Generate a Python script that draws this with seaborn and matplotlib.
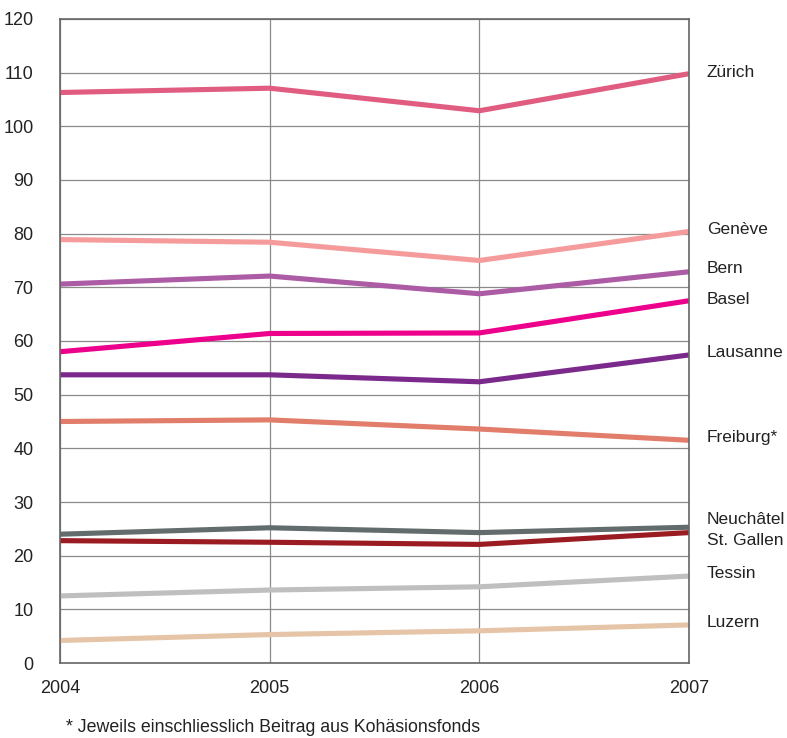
import pandas as pd
import seaborn as sns
import matplotlib.pyplot as plt

# --- data ---
years = [2004, 2005, 2006, 2007]
cities = ["Zürich", "Genève", "Bern", "Basel", "Lausanne", "Freiburg*",
          "Neuchâtel", "St. Gallen", "Tessin", "Luzern"]
zuerich = [106.3, 107.1, 102.9, 109.8]
geneve = [78.9, 78.4, 75.0, 80.4]
bern = [70.6, 72.1, 68.8, 72.9]
basel = [58.0, 61.4, 61.5, 67.5]
lausanne = [53.7, 53.7, 52.4, 57.4]
freiburg = [45.0, 45.3, 43.6, 41.5]
neuchatel = [24.0, 25.2, 24.3, 25.3]
st_gallen = [22.8, 22.5, 22.1, 24.3]
tessin = [12.5, 13.6, 14.2, 16.2]
luzern = [4.2, 5.3, 6.0, 7.1]
series = [zuerich, geneve, bern, basel, lausanne, freiburg,
          neuchatel, st_gallen, tessin, luzern]
colors = ["#E05C80", "#F59B9B", "#AC5BA5", "#EC008C", "#7B2A8C", "#E27D6C",
          "#636C6C", "#9B1B22", "#BFBFC0", "#E6C4A7"]
# small label shifts so close labels don't overlap
label_shift = [0.3, 0.3, 0.7, 0.3, 0.4, 0.6, 1.5, -1.4, 0.4, 0.4]

rows = []
for city, vals in zip(cities, series):
    for yr, v in zip(years, vals):
        rows.append({"Jahr": yr, "Wert": v, "Stadt": city})
df = pd.DataFrame(rows)

# --- plot ---
sns.set_style("white")
plt.rcParams['font.family'] = ['Liberation Sans', 'DejaVu Sans']

fig = plt.figure(figsize=(7.87, 7.38), dpi=100)
ax = fig.add_axes([0.0762, 0.1016, 0.7993, 0.8727])
sns.lineplot(data=df, x="Jahr", y="Wert", hue="Stadt", hue_order=cities,
             palette=dict(zip(cities, colors)), linewidth=3.7, legend=False,
             ax=ax, solid_capstyle="butt")

ax.set_xlim(2004, 2007)
ax.set_ylim(0, 120)
ax.set_xticks(years)
ax.set_yticks(range(0, 121, 10))
ax.grid(True, color="#8a8a8a", linewidth=0.9)
ax.set_axisbelow(True)
for s in ax.spines.values():
    s.set_color("#666666")
    s.set_linewidth(1.2)
ax.tick_params(axis="y", length=5, color="#666666", width=1, pad=14,
               labelsize=13, labelcolor="#222222")
ax.tick_params(axis="x", length=0, pad=12, labelsize=13, labelcolor="#222222")
ax.set_xlabel("")
ax.set_ylabel("")

for city, vals, sh in zip(cities, series, label_shift):
    ax.text(2007.085, vals[-1] + sh, city, va="center", ha="left",
            fontsize=12.5, color="#222222", clip_on=False)

fig.text(66 / 787, 1 - 727 / 738, "* Jeweils einschliesslich Beitrag aus Kohäsionsfonds",
         fontsize=12.8, color="#222222", va="center", ha="left")

fig.savefig("out.png", dpi=100)
